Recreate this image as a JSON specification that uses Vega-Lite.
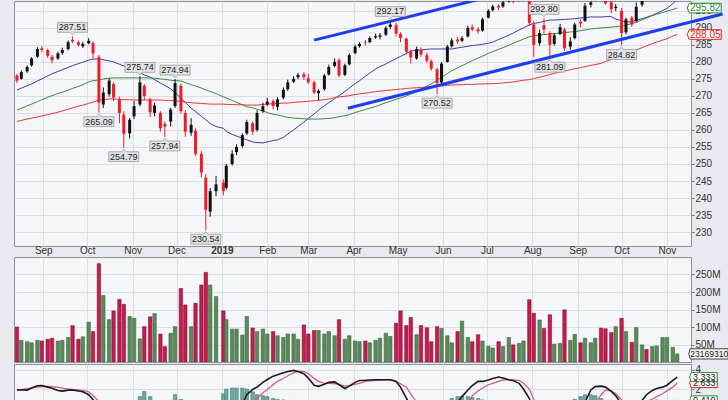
{
"$schema": "https://vega.github.io/schema/vega-lite/v6.json",
"padding": {"left": 13, "top": 0, "right": 0, "bottom": 0},
"background": "#e9eaef",
"spacing": 0,
"config": {
  "view": {"fill": "#f5f6fa", "stroke": "#8e9199"},
  "font": "Liberation Sans",
  "axis": {"labelFont": "Liberation Sans", "labelFontSize": 10, "labelColor": "#333333", "gridColor": "#dcdee4", "domain": false, "title": null, "tickColor": "#777777", "tickSize": 3, "labelPadding": 1, "labelOverlap": false}
},
"datasets": {
"p": [
{"d":"2018-08-14","o":276,"h":276.5,"l":273.8,"c":274.5,"v":100,"b":271.7,"g":265.8,"r":262.5,"m":1.92,"s":1.87,"k":0.1},
{"d":"2018-08-17","o":275,"h":277.5,"l":274.8,"c":277,"v":62,"b":272.3,"g":266.4,"r":262.8,"m":1.9,"s":1.95,"k":0.1},
{"d":"2018-08-21","o":277.2,"h":279,"l":276.8,"c":278.5,"v":58,"b":273,"g":267.1,"r":263.2,"m":1.88,"s":2.05,"k":0.15},
{"d":"2018-08-24","o":279,"h":281.4,"l":278.6,"c":281,"v":55,"b":273.5,"g":267.6,"r":263.5,"m":2.1,"s":2.12,"k":0.3},
{"d":"2018-08-28","o":281.5,"h":284.3,"l":281.2,"c":283.8,"v":62,"b":274.4,"g":268.3,"r":263.8,"m":2.35,"s":2.2,"k":0.7},
{"d":"2018-08-31","o":284,"h":284.6,"l":282.9,"c":283.5,"v":60,"b":275,"g":268.9,"r":264.1,"m":2.37,"s":2.25,"k":0.5},
{"d":"2018-09-04","o":283.5,"h":283.9,"l":281.2,"c":281.8,"v":65,"b":275.9,"g":269.6,"r":264.5,"m":2.2,"s":2.28,"k":0.05},
{"d":"2018-09-07","o":281.5,"h":282,"l":279.6,"c":280.5,"v":68,"b":276.5,"g":270.1,"r":264.8,"m":2.08,"s":2.25,"k":-0.3},
{"d":"2018-09-11","o":281,"h":283,"l":280.6,"c":282.5,"v":60,"b":277.2,"g":270.7,"r":265.2,"m":1.85,"s":2.18,"k":-0.4},
{"d":"2018-09-14","o":282.6,"h":284.2,"l":282.1,"c":283.5,"v":62,"b":277.7,"g":271.1,"r":265.6,"m":1.78,"s":2.1,"k":-0.35},
{"d":"2018-09-18","o":283.8,"h":286.3,"l":283.4,"c":285.8,"v":70,"b":278.4,"g":271.7,"r":266.1,"m":1.88,"s":2,"k":-0.1},
{"d":"2018-09-21","o":286.5,"h":287.51,"l":285.5,"c":286,"v":104,"b":278.9,"g":272.2,"r":266.5,"m":1.9,"s":1.95,"k":0.05},
{"d":"2018-09-25","o":285.8,"h":286.3,"l":284.5,"c":285,"v":65,"b":279.5,"g":272.8,"r":267,"m":1.8,"s":1.9,"k":-0.05},
{"d":"2018-09-28","o":284.6,"h":285.9,"l":284.1,"c":285.3,"v":72,"b":279.9,"g":273.3,"r":267.3,"m":1.72,"s":1.86,"k":-0.15},
{"d":"2018-10-02","o":285.5,"h":287,"l":285.2,"c":286.2,"v":114,"b":280.5,"g":274.1,"r":267.8,"m":1.4,"s":1.7,"k":-0.5},
{"d":"2018-10-05","o":285.5,"h":286,"l":281,"c":282.5,"v":87,"b":280.8,"g":274.5,"r":268.2,"m":0.88,"s":1.3,"k":-0.7},
{"d":"2018-10-09","o":281.5,"h":282,"l":265.09,"c":268,"v":281,"b":280.9,"g":274.7,"r":268.8,"m":-0.6,"s":0.7,"k":-1.5},
{"d":"2018-10-12","o":267.5,"h":272.5,"l":266.5,"c":271,"v":190,"b":280.6,"g":275,"r":268.9,"m":-1.5,"s":0,"k":-1.8},
{"d":"2018-10-16","o":270.5,"h":275.2,"l":269.8,"c":274.5,"v":121,"b":280.3,"g":275.2,"r":269.1,"m":-2.3,"s":-0.6,"k":-1.7},
{"d":"2018-10-19","o":273.5,"h":274,"l":268.5,"c":269.5,"v":146,"b":280,"g":275.3,"r":269.1,"m":-3,"s":-1.4,"k":-1.6},
{"d":"2018-10-23","o":269,"h":269.8,"l":262,"c":265,"v":179,"b":279.3,"g":275.3,"r":269,"m":-3.8,"s":-2.3,"k":-1.2},
{"d":"2018-10-26","o":264.5,"h":265.5,"l":254.79,"c":258.8,"v":165,"b":278.8,"g":275.3,"r":268.9,"m":-4.5,"s":-2.9,"k":-0.8},
{"d":"2018-10-30","o":259,"h":263.5,"l":257.5,"c":263,"v":130,"b":278.2,"g":275.3,"r":268.9,"m":-4.4,"s":-3.4,"k":0.2},
{"d":"2018-11-02","o":264,"h":268.5,"l":263.2,"c":267,"v":125,"b":277.6,"g":275.3,"r":268.8,"m":-4,"s":-3.8,"k":0.6},
{"d":"2018-11-06","o":267.5,"h":275.74,"l":267,"c":274,"v":66,"b":276.8,"g":275.3,"r":268.8,"m":-3.7,"s":-4,"k":1.2},
{"d":"2018-11-09","o":273,"h":273.5,"l":268.8,"c":270,"v":101,"b":276.2,"g":275.3,"r":268.8,"m":-3.5,"s":-4.1,"k":1.75},
{"d":"2018-11-13","o":269,"h":269.5,"l":263.8,"c":265.2,"v":129,"b":275.5,"g":275.3,"r":268.8,"m":-3.8,"s":-4,"k":1.2},
{"d":"2018-11-16","o":265,"h":268,"l":264,"c":267.2,"v":138,"b":274.8,"g":275.2,"r":268.8,"m":-4,"s":-4,"k":0.3},
{"d":"2018-11-20","o":265,"h":265.5,"l":259.5,"c":260.5,"v":80,"b":273.8,"g":275,"r":268.8,"m":-4.3,"s":-4.1,"k":-0.2},
{"d":"2018-11-23","o":261.8,"h":262.5,"l":257.94,"c":261,"v":44,"b":273.1,"g":274.9,"r":268.7,"m":-4.5,"s":-4.2,"k":0.1},
{"d":"2018-11-27","o":262.5,"h":266.5,"l":261,"c":266,"v":82,"b":272.1,"g":274.6,"r":268.7,"m":-4.2,"s":-4.25,"k":0.8},
{"d":"2018-11-30","o":267,"h":274.94,"l":266.5,"c":273.8,"v":101,"b":271,"g":274.5,"r":268.6,"m":-4,"s":-4.3,"k":1.4},
{"d":"2018-12-04","o":273,"h":273.6,"l":264.8,"c":265.5,"v":210,"b":269.3,"g":274.4,"r":268.4,"m":-4.4,"s":-4.3,"k":0.9},
{"d":"2018-12-07","o":265,"h":265.8,"l":258,"c":259.5,"v":163,"b":268.1,"g":273.9,"r":268.2,"m":-4.8,"s":-4.5,"k":-0.2},
{"d":"2018-12-11","o":259.2,"h":263.5,"l":258.3,"c":261.5,"v":101,"b":266.4,"g":273.3,"r":268,"m":-5.4,"s":-4.7,"k":-0.6},
{"d":"2018-12-14","o":259.8,"h":260.5,"l":252.3,"c":253,"v":168,"b":265.4,"g":272.9,"r":267.9,"m":-6,"s":-5,"k":-1},
{"d":"2018-12-18","o":253,"h":253.8,"l":246,"c":247.5,"v":220,"b":264,"g":272.3,"r":267.8,"m":-7,"s":-5.5,"k":-1.3},
{"d":"2018-12-21","o":246,"h":247,"l":230.54,"c":236.5,"v":256,"b":263,"g":271.8,"r":267.7,"m":-8,"s":-6.1,"k":-1.5},
{"d":"2018-12-24","o":236,"h":243,"l":234.5,"c":242,"v":220,"b":261.9,"g":271.3,"r":267.6,"m":-7.8,"s":-6.5,"k":-1},
{"d":"2018-12-28","o":242,"h":246.5,"l":240.5,"c":244,"v":187,"b":261,"g":270.7,"r":267.6,"m":-7,"s":-6.5,"k":-0.5},
{"d":"2019-01-02","o":244.5,"h":245.5,"l":240.8,"c":242,"v":146,"b":260.5,"g":269.7,"r":267.6,"m":-5.6,"s":-6.2,"k":1.5},
{"d":"2019-01-04","o":243,"h":250,"l":242.5,"c":249.5,"v":121,"b":259.5,"g":269.4,"r":267.5,"m":-5,"s":-6,"k":2},
{"d":"2019-01-08","o":250,"h":254,"l":249.5,"c":253,"v":94,"b":258.7,"g":268.7,"r":267.5,"m":-3,"s":-5,"k":2.1},
{"d":"2019-01-11","o":253.5,"h":255.8,"l":252.6,"c":255,"v":94,"b":258.2,"g":268.1,"r":267.4,"m":-2,"s":-4.2,"k":2.1},
{"d":"2019-01-15","o":255.3,"h":259,"l":254.8,"c":258.5,"v":77,"b":257.6,"g":267.4,"r":267.4,"m":0.4,"s":-2.8,"k":2.1},
{"d":"2019-01-18","o":259,"h":263,"l":258.5,"c":262.3,"v":130,"b":257.1,"g":266.8,"r":267.3,"m":1.4,"s":-1.5,"k":2},
{"d":"2019-01-22","o":262,"h":262.5,"l":258.6,"c":259.5,"v":97,"b":256.5,"g":266.5,"r":267.3,"m":1.95,"s":0.6,"k":1.7},
{"d":"2019-01-25","o":260,"h":265.8,"l":259.5,"c":265,"v":87,"b":256.3,"g":266.1,"r":267.3,"m":2.2,"s":1,"k":1.4},
{"d":"2019-01-29","o":265.5,"h":268,"l":265,"c":267,"v":94,"b":256.2,"g":265.6,"r":267.5,"m":2.7,"s":1.6,"k":1.3},
{"d":"2019-02-01","o":267.5,"h":269.5,"l":267,"c":268.3,"v":80,"b":256.5,"g":265.1,"r":267.6,"m":3,"s":1.95,"k":1.2},
{"d":"2019-02-05","o":268.5,"h":269,"l":266,"c":267,"v":87,"b":256.9,"g":264.6,"r":267.7,"m":3.35,"s":2.45,"k":1},
{"d":"2019-02-08","o":266.8,"h":269.6,"l":265.8,"c":269,"v":75,"b":257.1,"g":264.4,"r":267.8,"m":3.5,"s":2.8,"k":0.9},
{"d":"2019-02-12","o":269.5,"h":272.5,"l":269,"c":271.8,"v":70,"b":257.8,"g":264,"r":267.9,"m":3.7,"s":3.1,"k":0.85},
{"d":"2019-02-15","o":272,"h":274.8,"l":271.5,"c":274,"v":80,"b":258.8,"g":263.7,"r":267.9,"m":3.85,"s":3.4,"k":0.8},
{"d":"2019-02-19","o":274.2,"h":275.8,"l":273.8,"c":275,"v":80,"b":260,"g":263.5,"r":268.1,"m":3.96,"s":3.7,"k":0.5},
{"d":"2019-02-22","o":275.5,"h":276.8,"l":274.9,"c":276.2,"v":65,"b":261,"g":263.4,"r":268.2,"m":3.85,"s":3.85,"k":0.2},
{"d":"2019-02-26","o":276.4,"h":277,"l":274.7,"c":275.5,"v":106,"b":262.3,"g":263.3,"r":268.3,"m":3.6,"s":3.85,"k":-0.2},
{"d":"2019-03-01","o":275.2,"h":276.5,"l":273.5,"c":274,"v":80,"b":263.4,"g":263.2,"r":268.4,"m":3.15,"s":3.6,"k":-0.4},
{"d":"2019-03-05","o":274,"h":274.5,"l":270.5,"c":271,"v":90,"b":264.7,"g":263.2,"r":268.6,"m":2.4,"s":3.1,"k":-0.6},
{"d":"2019-03-08","o":270.8,"h":272,"l":268.8,"c":271.5,"v":90,"b":265.8,"g":263.2,"r":268.7,"m":2.28,"s":2.8,"k":-0.5},
{"d":"2019-03-12","o":272,"h":276.5,"l":271.5,"c":276,"v":80,"b":267.1,"g":263.3,"r":268.9,"m":2.5,"s":2.6,"k":-0.1},
{"d":"2019-03-15","o":276.3,"h":279.2,"l":276,"c":278.5,"v":87,"b":268,"g":263.4,"r":269.1,"m":2.7,"s":2.6,"k":0},
{"d":"2019-03-19","o":278.8,"h":281,"l":278.4,"c":280,"v":75,"b":269.2,"g":263.6,"r":269.5,"m":2.75,"s":2.58,"k":0.1},
{"d":"2019-03-22","o":280.5,"h":281.1,"l":275.5,"c":276,"v":121,"b":270.1,"g":263.9,"r":269.7,"m":2.45,"s":2.5,"k":-0.1},
{"d":"2019-03-26","o":276.2,"h":279.5,"l":275.8,"c":279,"v":65,"b":271.3,"g":264.2,"r":269.9,"m":2.05,"s":2.3,"k":-0.2},
{"d":"2019-03-29","o":279.3,"h":282.5,"l":279,"c":282,"v":75,"b":272.3,"g":264.5,"r":270.1,"m":2.3,"s":2.35,"k":0.1},
{"d":"2019-04-02","o":282.6,"h":285,"l":282.2,"c":284.5,"v":60,"b":273.6,"g":265.1,"r":270.4,"m":2.7,"s":2.5,"k":0.6},
{"d":"2019-04-05","o":284.6,"h":285.8,"l":284.2,"c":285.3,"v":58,"b":274.5,"g":265.5,"r":270.6,"m":2.9,"s":2.6,"k":0.5},
{"d":"2019-04-09","o":285.8,"h":286.4,"l":284.9,"c":285.6,"v":60,"b":275.8,"g":266,"r":270.8,"m":2.92,"s":2.8,"k":0.35},
{"d":"2019-04-12","o":285.8,"h":287.5,"l":285.5,"c":287,"v":55,"b":276.7,"g":266.4,"r":271,"m":2.95,"s":2.85,"k":0.25},
{"d":"2019-04-16","o":287.2,"h":288.3,"l":286.8,"c":287.6,"v":62,"b":277.9,"g":266.9,"r":271.3,"m":2.97,"s":2.9,"k":0.2},
{"d":"2019-04-19","o":287.4,"h":288.5,"l":286.6,"c":287.8,"v":68,"b":278.6,"g":267.4,"r":271.4,"m":2.98,"s":2.95,"k":0.15},
{"d":"2019-04-23","o":288,"h":290.5,"l":287.6,"c":290,"v":82,"b":279.4,"g":268,"r":271.6,"m":2.98,"s":2.97,"k":0.1},
{"d":"2019-04-26","o":290.3,"h":292.17,"l":289.6,"c":291,"v":73,"b":280.1,"g":268.4,"r":271.7,"m":2.98,"s":2.98,"k":0.05},
{"d":"2019-04-30","o":290.8,"h":291.5,"l":287.5,"c":288.3,"v":111,"b":281,"g":269,"r":271.9,"m":2.8,"s":2.8,"k":-0.1},
{"d":"2019-05-03","o":288.2,"h":288.7,"l":285.8,"c":287,"v":146,"b":281.6,"g":269.4,"r":272,"m":2.2,"s":2.55,"k":-0.3},
{"d":"2019-05-07","o":286.8,"h":287.2,"l":282.2,"c":283,"v":104,"b":282.5,"g":270,"r":272.2,"m":1.05,"s":2.2,"k":-0.6},
{"d":"2019-05-10","o":283,"h":283.6,"l":279.5,"c":281.3,"v":127,"b":283.2,"g":270.5,"r":272.3,"m":0.2,"s":1.5,"k":-0.9},
{"d":"2019-05-14","o":281,"h":284.5,"l":280.6,"c":283.8,"v":78,"b":283.4,"g":271.3,"r":272.4,"m":-0.7,"s":0.6,"k":-1},
{"d":"2019-05-17","o":283.6,"h":284.3,"l":281.5,"c":282.2,"v":104,"b":283.5,"g":272,"r":272.5,"m":-1.1,"s":0,"k":-1},
{"d":"2019-05-21","o":282,"h":282.8,"l":279.6,"c":280.3,"v":98,"b":283.7,"g":272.9,"r":272.6,"m":-1.6,"s":-0.8,"k":-0.9},
{"d":"2019-05-24","o":280.2,"h":280.7,"l":277.4,"c":278,"v":58,"b":283.8,"g":273.5,"r":272.7,"m":-2,"s":-1.1,"k":-0.8},
{"d":"2019-05-28","o":277.8,"h":278.3,"l":270.52,"c":273.8,"v":101,"b":283.8,"g":274.6,"r":272.8,"m":-2.2,"s":-1.3,"k":-0.5},
{"d":"2019-05-31","o":274,"h":280,"l":273.5,"c":279.5,"v":96,"b":283.8,"g":275.5,"r":272.9,"m":-2.1,"s":-1.5,"k":-0.2},
{"d":"2019-06-04","o":280,"h":285,"l":279.8,"c":284.5,"v":75,"b":283.8,"g":276.6,"r":273.1,"m":-1,"s":-1.3,"k":0.6},
{"d":"2019-06-07","o":284.6,"h":287,"l":284.2,"c":286.3,"v":55,"b":283.8,"g":277.4,"r":273.2,"m":-0.2,"s":-1,"k":1},
{"d":"2019-06-11","o":286.6,"h":287.3,"l":285.3,"c":286,"v":87,"b":284.1,"g":278.2,"r":273.3,"m":0.6,"s":-0.6,"k":1.2},
{"d":"2019-06-14","o":286.2,"h":287.6,"l":285.8,"c":287,"v":117,"b":284.3,"g":278.9,"r":273.3,"m":1.2,"s":-0.1,"k":1.23},
{"d":"2019-06-18","o":287.5,"h":290.6,"l":287.2,"c":290,"v":70,"b":284.6,"g":279.7,"r":273.4,"m":1.9,"s":0.6,"k":1.2},
{"d":"2019-06-21","o":290.2,"h":291,"l":289,"c":289.5,"v":58,"b":284.8,"g":280.4,"r":273.4,"m":2.35,"s":1.3,"k":1.1},
{"d":"2019-06-25","o":289.6,"h":290.2,"l":288.3,"c":289,"v":78,"b":285,"g":281.1,"r":273.5,"m":2.8,"s":1.8,"k":1},
{"d":"2019-06-28","o":289.2,"h":293,"l":288.9,"c":292.5,"v":60,"b":285.2,"g":281.7,"r":273.5,"m":2.8,"s":2.1,"k":0.85},
{"d":"2019-07-02","o":293,"h":295.5,"l":292.8,"c":295,"v":45,"b":285.5,"g":282.5,"r":273.6,"m":2.95,"s":2.45,"k":0.75},
{"d":"2019-07-05","o":295.2,"h":296.8,"l":294.8,"c":296.3,"v":40,"b":285.8,"g":283,"r":273.6,"m":3.1,"s":2.6,"k":0.65},
{"d":"2019-07-09","o":296.5,"h":297,"l":295.2,"c":296,"v":58,"b":286.6,"g":283.7,"r":273.7,"m":3.26,"s":2.8,"k":0.5},
{"d":"2019-07-12","o":296.3,"h":298.2,"l":295.9,"c":297.5,"v":44,"b":287.1,"g":284.2,"r":273.8,"m":3.15,"s":2.95,"k":0.3},
{"d":"2019-07-16","o":297.8,"h":299.2,"l":297.4,"c":298.5,"v":70,"b":287.9,"g":284.9,"r":274,"m":2.98,"s":2.98,"k":0.1},
{"d":"2019-07-19","o":299,"h":299.6,"l":297.2,"c":297.8,"v":49,"b":288.5,"g":285.5,"r":274.1,"m":2.88,"s":2.95,"k":-0.05},
{"d":"2019-07-23","o":298,"h":300.3,"l":297.8,"c":299.8,"v":53,"b":289.4,"g":286.2,"r":274.4,"m":2.6,"s":2.9,"k":-0.2},
{"d":"2019-07-26","o":299.8,"h":301,"l":299.3,"c":300.5,"v":60,"b":290,"g":286.7,"r":274.6,"m":2,"s":2.6,"k":-0.5},
{"d":"2019-07-30","o":300,"h":300.5,"l":290.5,"c":291.5,"v":178,"b":290.9,"g":287.4,"r":274.8,"m":1,"s":2,"k":-0.8},
{"d":"2019-08-02","o":291,"h":292,"l":281.5,"c":285,"v":139,"b":291.3,"g":287.7,"r":275.1,"m":0,"s":0.9,"k":-1},
{"d":"2019-08-06","o":285.5,"h":289.5,"l":284.8,"c":288.5,"v":120,"b":291.6,"g":287.9,"r":275.5,"m":-0.6,"s":0.1,"k":-1},
{"d":"2019-08-09","o":290.8,"h":292.8,"l":288,"c":289.5,"v":96,"b":291.9,"g":288,"r":275.8,"m":-0.9,"s":-0.3,"k":-0.9},
{"d":"2019-08-13","o":288.5,"h":289,"l":281.09,"c":285,"v":135,"b":292.3,"g":288.2,"r":276.3,"m":-1.1,"s":-0.6,"k":-0.6},
{"d":"2019-08-16","o":285.3,"h":288.5,"l":284.8,"c":287.8,"v":51,"b":292.3,"g":288.3,"r":276.6,"m":-1.2,"s":-0.8,"k":-0.4},
{"d":"2019-08-20","o":288.2,"h":291.2,"l":287.9,"c":290.2,"v":53,"b":292.4,"g":288.5,"r":277,"m":-1.05,"s":-0.8,"k":-0.1},
{"d":"2019-08-23","o":289.5,"h":290,"l":283.2,"c":284,"v":149,"b":292.5,"g":288.6,"r":277.3,"m":-0.9,"s":-0.8,"k":0.2},
{"d":"2019-08-27","o":284.5,"h":287.3,"l":283.6,"c":286,"v":62,"b":292.6,"g":288.8,"r":277.7,"m":-0.6,"s":-0.8,"k":0.6},
{"d":"2019-08-30","o":287,"h":291.5,"l":286.6,"c":291,"v":79,"b":292.7,"g":288.9,"r":278,"m":-0.3,"s":-0.75,"k":0.9},
{"d":"2019-09-03","o":291.8,"h":292.5,"l":290.2,"c":291.3,"v":55,"b":292.9,"g":289.2,"r":278.3,"m":0.1,"s":-0.5,"k":1.2},
{"d":"2019-09-06","o":292,"h":297.3,"l":291.8,"c":296.5,"v":68,"b":293,"g":289.4,"r":278.6,"m":0.6,"s":-0.3,"k":1.4},
{"d":"2019-09-10","o":296.8,"h":298.3,"l":296,"c":297.5,"v":55,"b":293.2,"g":289.7,"r":279,"m":1.9,"s":0.2,"k":1.4},
{"d":"2019-09-13","o":298,"h":300.2,"l":297.7,"c":299.3,"v":68,"b":293.2,"g":289.8,"r":279.2,"m":2.25,"s":0.5,"k":1.3},
{"d":"2019-09-17","o":299.3,"h":300,"l":297.8,"c":298.8,"v":97,"b":293.2,"g":290,"r":279.6,"m":2.3,"s":1.4,"k":1},
{"d":"2019-09-20","o":299.2,"h":300.1,"l":296.8,"c":297.2,"v":95,"b":293.3,"g":290.1,"r":280.1,"m":2.2,"s":1.9,"k":0.8},
{"d":"2019-09-24","o":297.5,"h":298.3,"l":294.3,"c":295.5,"v":84,"b":293.3,"g":290.2,"r":280.7,"m":1.75,"s":1.8,"k":0.5},
{"d":"2019-09-27","o":295.8,"h":297,"l":294.9,"c":296.2,"v":101,"b":292.6,"g":290.4,"r":281.2,"m":1.3,"s":1.5,"k":0.1},
{"d":"2019-10-01","o":295,"h":295.8,"l":284.82,"c":288.5,"v":125,"b":292.1,"g":290.5,"r":281.8,"m":0.4,"s":0.85,"k":-0.4},
{"d":"2019-10-04","o":288.7,"h":293,"l":288.1,"c":292.5,"v":87,"b":291.7,"g":290.8,"r":282.3,"m":-0.3,"s":0.6,"k":-0.5},
{"d":"2019-10-08","o":293,"h":293.5,"l":290.3,"c":291,"v":56,"b":291.8,"g":291.3,"r":283,"m":-0.2,"s":0.25,"k":-0.4},
{"d":"2019-10-11","o":292,"h":297.5,"l":291.7,"c":296.2,"v":99,"b":292.2,"g":291.6,"r":283.5,"m":0.2,"s":0.25,"k":0},
{"d":"2019-10-15","o":296.8,"h":299.2,"l":296.2,"c":298.7,"v":49,"b":292.7,"g":292.4,"r":284.2,"m":0.8,"s":0.45,"k":0.3},
{"d":"2019-10-18","o":299,"h":299.6,"l":297.6,"c":298.2,"v":36,"b":293.1,"g":292.9,"r":284.7,"m":1.4,"s":0.65,"k":0.6},
{"d":"2019-10-22","o":298.6,"h":300.5,"l":298.2,"c":299.5,"v":44,"b":293.7,"g":293.6,"r":285.4,"m":1.85,"s":0.95,"k":0.8},
{"d":"2019-10-25","o":299.8,"h":302,"l":299.4,"c":301.5,"v":46,"b":294.3,"g":294,"r":285.8,"m":2.05,"s":1.2,"k":0.85},
{"d":"2019-10-29","o":301.8,"h":303.7,"l":301.2,"c":303,"v":70,"b":295.1,"g":294.5,"r":286.4,"m":2.2,"s":1.5,"k":0.8},
{"d":"2019-11-01","o":303.2,"h":306,"l":302.8,"c":305.5,"v":70,"b":295.7,"g":294.9,"r":286.8,"m":2.4,"s":1.8,"k":0.8},
{"d":"2019-11-05","o":305.8,"h":307.8,"l":305.3,"c":307,"v":42,"b":297.1,"g":295.4,"r":287.6,"m":2.9,"s":2.2,"k":0.8},
{"d":"2019-11-08","o":307.2,"h":308.6,"l":306.6,"c":308,"v":23.17,"b":298.3,"g":295.82,"r":288.05,"m":3.25,"s":2.63,"k":0.8}
],
"lb": [
{"d":"2018-09-21","p":287.51,"a":1},{"d":"2018-10-09","p":265.09,"a":0},{"d":"2018-11-06","p":275.74,"a":1},{"d":"2018-10-26","p":254.79,"a":0},
{"d":"2018-11-30","p":274.94,"a":1},{"d":"2018-11-23","p":257.94,"a":0},{"d":"2018-12-21","p":230.54,"a":0},{"d":"2019-04-26","p":292.17,"a":1},
{"d":"2019-05-28","p":270.52,"a":0},{"d":"2019-08-09","p":292.8,"a":1},{"d":"2019-08-13","p":281.09,"a":0},{"d":"2019-10-01","p":284.82,"a":0}
],
"tl": [
{"k":"u","d":"2019-03-05","p":286.4},{"k":"u","d":"2019-07-10","p":299.9},
{"k":"l","d":"2019-03-28","p":266.4},{"k":"l","d":"2019-12-09","p":294.1}
],
"tg": [
{"d":"2019-11-08","p":295.82,"k":"g"},{"d":"2019-11-08","p":288.05,"k":"r"}
],
"vt": [{"d":"2019-11-08","v":23.17,"t":"23169310"}],
"mt": [
{"d":"2019-11-08","p":2.63,"t":"2.633","k":"s"},{"d":"2019-11-08","p":0.8,"t":"0.419","k":"h"},{"d":"2019-11-08","p":3.25,"t":"3.333","k":"m"}
]
},
"vconcat": [
{
  "width": 677, "height": 245,
  "layer": [
    {"data": {"name": "p"}, "mark": {"type": "line", "clip": true, "color": "#3c3ca8", "strokeWidth": 1},
     "encoding": {
       "x": {"field": "d", "type": "temporal",
             "scale": {"domain": [{"year": 2018, "month": 8, "date": 12, "utc": true}, {"year": 2019, "month": 11, "date": 17, "hours": 10, "utc": true}], "nice": false, "padding": 0},
             "axis": {"orient": "bottom", "grid": true, "ticks": false, "labelPadding": -1, "tickCount": {"interval": "month", "step": 1},
                      "labelExpr": "month(datum.value)==0 ? timeFormat(datum.value,'%Y') : timeFormat(datum.value,'%b')",
                      "labelFontWeight": {"condition": {"test": "month(datum.value)==0", "value": "bold"}, "value": "normal"},
                      "labelOverlap": false, "labelFlush": false}},
       "y": {"field": "b", "type": "quantitative", "scale": {"domain": [225.9, 297.9], "nice": false, "zero": false},
             "axis": {"orient": "right", "values": [230,235,240,245,250,255,260,265,270,275,280,285,290,295], "tickCount": 30, "grid": true, "labelOverlap": false}}
     }},
    {"data": {"name": "p"}, "mark": {"type": "line", "clip": true, "color": "#3a8a3a", "strokeWidth": 1},
     "encoding": {"x": {"field": "d", "type": "temporal"}, "y": {"field": "g", "type": "quantitative"}}},
    {"data": {"name": "p"}, "mark": {"type": "line", "clip": true, "color": "#e83434", "strokeWidth": 1},
     "encoding": {"x": {"field": "d", "type": "temporal"}, "y": {"field": "r", "type": "quantitative"}}},
    {"data": {"name": "p"}, "mark": {"type": "rule", "clip": true, "strokeWidth": 1},
     "encoding": {"x": {"field": "d", "type": "temporal"}, "y": {"field": "l", "type": "quantitative"}, "y2": {"field": "h"},
                  "color": {"condition": {"test": "datum.c < datum.o", "value": "#ee1c25"}, "value": "#111111"}}},
    {"data": {"name": "p"}, "mark": {"type": "bar", "clip": true, "width": 3},
     "encoding": {"x": {"field": "d", "type": "temporal"}, "y": {"field": "o", "type": "quantitative"}, "y2": {"field": "c"},
                  "color": {"condition": {"test": "datum.c < datum.o", "value": "#ee1c25"}, "value": "#111111"}}},
    {"data": {"name": "tl"}, "transform": [{"filter": "datum.k=='u'"}], "mark": {"type": "line", "clip": true, "color": "#1f3cf0", "strokeWidth": 3},
     "encoding": {"x": {"field": "d", "type": "temporal"}, "y": {"field": "p", "type": "quantitative"}}},
    {"data": {"name": "tl"}, "transform": [{"filter": "datum.k=='l'"}], "mark": {"type": "line", "clip": false, "color": "#1f3cf0", "strokeWidth": 3},
     "encoding": {"x": {"field": "d", "type": "temporal"}, "y": {"field": "p", "type": "quantitative"}}},
    {"data": {"name": "lb"}, "transform": [{"filter": "datum.a==1"}],
     "mark": {"type": "point", "shape": "M-1,-0.33L1,-0.33L1,0.33L0.15,0.33L0,0.5L-0.15,0.33L-1,0.33Z", "size": 900, "filled": true, "color": "#e2e3e6", "stroke": "#9a9a9a", "strokeWidth": 0.8, "opacity": 1, "yOffset": -9},
     "encoding": {"x": {"field": "d", "type": "temporal"}, "y": {"field": "p", "type": "quantitative"}}},
    {"data": {"name": "lb"}, "transform": [{"filter": "datum.a==1"}],
     "mark": {"type": "text", "fontSize": 9, "color": "#222222", "yOffset": -9, "baseline": "middle"},
     "encoding": {"x": {"field": "d", "type": "temporal"}, "y": {"field": "p", "type": "quantitative"}, "text": {"field": "p", "format": ".2f"}}},
    {"data": {"name": "lb"}, "transform": [{"filter": "datum.a==0"}],
     "mark": {"type": "point", "shape": "M-1,-0.33L-0.15,-0.33L0,-0.5L0.15,-0.33L1,-0.33L1,0.33L-1,0.33Z", "size": 900, "filled": true, "color": "#e2e3e6", "stroke": "#9a9a9a", "strokeWidth": 0.8, "opacity": 1, "yOffset": 9},
     "encoding": {"x": {"field": "d", "type": "temporal"}, "y": {"field": "p", "type": "quantitative"}}},
    {"data": {"name": "lb"}, "transform": [{"filter": "datum.a==0"}],
     "mark": {"type": "text", "fontSize": 9, "color": "#222222", "yOffset": 9, "baseline": "middle"},
     "encoding": {"x": {"field": "d", "type": "temporal"}, "y": {"field": "p", "type": "quantitative"}, "text": {"field": "p", "format": ".2f"}}},
    {"data": {"name": "tg"},
     "mark": {"type": "point", "shape": "M-1.12,0L-1,-0.3L1,-0.3L1,0.3L-1,0.3Z", "size": 1024, "filled": false, "fill": "#ffffff", "strokeWidth": 1, "opacity": 1, "xOffset": 28},
     "encoding": {"x": {"field": "d", "type": "temporal"}, "y": {"field": "p", "type": "quantitative"},
                  "stroke": {"field": "k", "type": "nominal", "scale": {"domain": ["g", "r"], "range": ["#2e8b2e", "#e02020"]}, "legend": null}}},
    {"data": {"name": "tg"},
     "mark": {"type": "text", "fontSize": 10, "xOffset": 28, "baseline": "middle"},
     "encoding": {"x": {"field": "d", "type": "temporal"}, "y": {"field": "p", "type": "quantitative"}, "text": {"field": "p", "format": ".2f"},
                  "color": {"field": "k", "type": "nominal", "scale": {"domain": ["g", "r"], "range": ["#2e8b2e", "#e02020"]}, "legend": null}}}
  ]
},
{
  "width": 677, "height": 105,
  "layer": [
    {"data": {"name": "p"}, "mark": {"type": "bar", "clip": true, "width": 3.4, "strokeWidth": 0.6},
     "encoding": {
       "x": {"field": "d", "type": "temporal",
             "scale": {"domain": [{"year": 2018, "month": 8, "date": 12, "utc": true}, {"year": 2019, "month": 11, "date": 17, "hours": 10, "utc": true}], "nice": false, "padding": 0},
             "axis": {"grid": true, "labels": false, "ticks": false, "tickCount": {"interval": "month", "step": 1}}},
       "y": {"field": "v", "type": "quantitative", "scale": {"domain": [0, 300], "nice": false},
             "axis": {"orient": "right", "values": [50, 100, 150, 200, 250], "tickCount": 20, "labelExpr": "datum.value + 'M'", "grid": true, "labelOverlap": false}},
       "color": {"condition": {"test": "datum.c < datum.o", "value": "#c11d4f"}, "value": "#5a8a5a"},
       "stroke": {"condition": {"test": "datum.c < datum.o", "value": "#8e0f36"}, "value": "#3a663a"}
     }},
    {"data": {"name": "vt"},
     "mark": {"type": "point", "shape": "M-1.08,0L-1,-0.27L1,-0.27L1,0.27L-1,0.27Z", "size": 1444, "filled": false, "fill": "#f4f4f4", "stroke": "#444444", "strokeWidth": 1, "opacity": 1, "xOffset": 32},
     "encoding": {"x": {"field": "d", "type": "temporal"}, "y": {"field": "v", "type": "quantitative"}}},
    {"data": {"name": "vt"},
     "mark": {"type": "text", "fontSize": 8.5, "color": "#222222", "xOffset": 32, "baseline": "middle"},
     "encoding": {"x": {"field": "d", "type": "temporal"}, "y": {"field": "v", "type": "quantitative"}, "text": {"field": "t"}}}
  ]
},
{
  "width": 677, "height": 39,
  "layer": [
    {"data": {"name": "p"}, "mark": {"type": "bar", "clip": true, "width": 3.4, "color": "#6fa8a0", "stroke": "#3e7b73", "strokeWidth": 0.6},
     "encoding": {
       "x": {"field": "d", "type": "temporal",
             "scale": {"domain": [{"year": 2018, "month": 8, "date": 12, "utc": true}, {"year": 2019, "month": 11, "date": 17, "hours": 10, "utc": true}], "nice": false, "padding": 0},
             "axis": {"grid": true, "labels": false, "ticks": false, "tickCount": {"interval": "month", "step": 1}}},
       "y": {"field": "k", "type": "quantitative", "scale": {"domain": [0.53, 4.63], "nice": false, "zero": false},
             "axis": {"orient": "right", "values": [2, 4], "tickCount": 10, "format": "d", "grid": true, "labelOverlap": false}},
       "y2": {"datum": 0}
     }},
    {"data": {"name": "p"}, "mark": {"type": "line", "clip": true, "color": "#d0607e", "strokeWidth": 1.3},
     "encoding": {"x": {"field": "d", "type": "temporal"}, "y": {"field": "s", "type": "quantitative"}}},
    {"data": {"name": "p"}, "mark": {"type": "line", "clip": true, "color": "#1a1a1a", "strokeWidth": 1.6},
     "encoding": {"x": {"field": "d", "type": "temporal"}, "y": {"field": "m", "type": "quantitative"}}},
    {"data": {"name": "mt"},
     "mark": {"type": "point", "shape": "M-1.12,0L-1,-0.35L1,-0.35L1,0.35L-1,0.35Z", "size": 676, "filled": false, "fill": "#ffffff", "strokeWidth": 1, "opacity": 1, "xOffset": 27},
     "encoding": {"x": {"field": "d", "type": "temporal"}, "y": {"field": "p", "type": "quantitative"},
                  "stroke": {"field": "k", "type": "nominal", "scale": {"domain": ["m", "s", "h"], "range": ["#111111", "#d0607e", "#6a7fd0"]}, "legend": null}}},
    {"data": {"name": "mt"},
     "mark": {"type": "text", "fontSize": 9, "xOffset": 27, "baseline": "middle", "color": "#222222"},
     "encoding": {"x": {"field": "d", "type": "temporal"}, "y": {"field": "p", "type": "quantitative"}, "text": {"field": "t"}}}
  ]
}
]
}
